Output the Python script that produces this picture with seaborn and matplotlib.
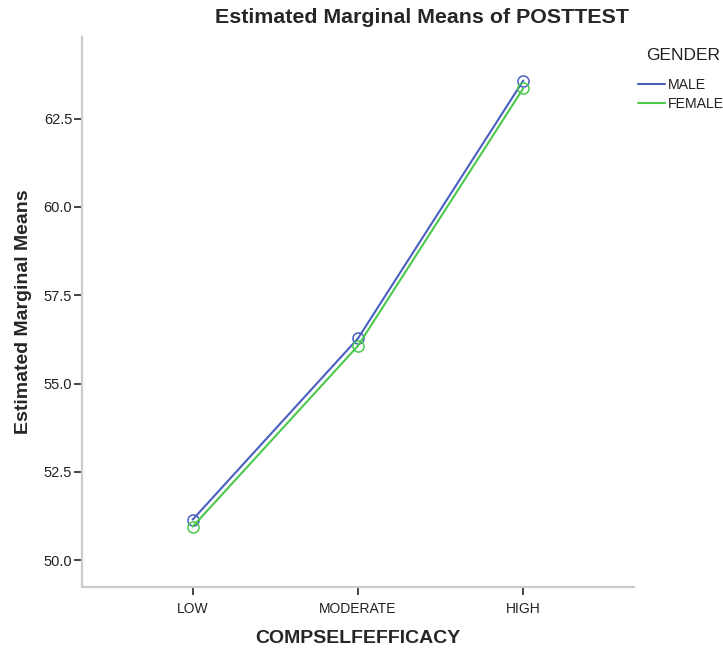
import pandas as pd
import matplotlib
matplotlib.use('Agg')
import matplotlib.pyplot as plt
import seaborn as sns

# Estimated marginal means
levels = ['LOW', 'MODERATE', 'HIGH']
male_means = [51.15, 56.28, 63.58]
female_means = [50.95, 56.07, 63.36]
genders = ['MALE', 'FEMALE']
y_ticks = [50.0, 52.5, 55.0, 57.5, 60.0, 62.5]

df = pd.DataFrame({
    'COMPSELFEFFICACY': levels * 2,
    'POSTTEST': male_means + female_means,
    'GENDER': [genders[0]] * 3 + [genders[1]] * 3,
})
df['x'] = df['COMPSELFEFFICACY'].map({k: i for i, k in enumerate(levels)})

sns.set_style('white')
plt.rcParams['font.family'] = ['Liberation Sans', 'DejaVu Sans']

fig = plt.figure(figsize=(7.23, 6.51), dpi=100)
ax = fig.add_axes([0.1134, 0.0983, 0.7635, 0.8447])

palette = {'MALE': '#4a5fc1', 'FEMALE': '#4cc94c'}
sns.lineplot(data=df, x='x', y='POSTTEST', hue='GENDER', palette=palette,
             marker='o', markersize=8, markerfacecolor='none', linewidth=1.5,
             ax=ax, legend=True)
for ln in ax.lines:
    ln.set_markeredgecolor(ln.get_color())
    ln.set_markeredgewidth(1.1)

ax.set_xlim(-0.67, 2.67)
ax.set_ylim(49.24, 64.81)
ax.set_xticks(range(len(levels)))
ax.set_xticklabels(levels)
ax.set_yticks(y_ticks)
ax.set_yticklabels([f'{v:.1f}' for v in y_ticks])

for side in ['top', 'right']:
    ax.spines[side].set_visible(False)
for side in ['left', 'bottom']:
    ax.spines[side].set_color('#cccccc')
    ax.spines[side].set_linewidth(1.6)
ax.tick_params(axis='both', which='major', direction='out', length=6, width=1.2,
               color='#222222', labelsize=10, labelcolor='#222222', left=True, bottom=True)
ax.tick_params(axis='y', pad=1, labelsize=10.5)
ax.tick_params(axis='x', pad=5)

ax.set_xlabel('COMPSELFEFFICACY', fontsize=14, fontweight='bold', labelpad=10)
ax.set_ylabel('Estimated Marginal Means', fontsize=14, fontweight='bold', labelpad=8)
ax.yaxis.set_label_coords(-0.090, 0.5)
fig.text(0.583, 0.973, 'Estimated Marginal Means of POSTTEST', ha='center', va='center',
         fontsize=15.4, fontweight='bold')

# legend: title placed as separate text to match the wider gap above the entries
fig.text(0.9447, 0.914, 'GENDER', ha='center', va='center', fontsize=12.5, color='#222222')
handles, labels = ax.get_legend_handles_labels()
for h in handles:
    h.set_marker('')
leg = ax.legend(handles, labels, loc='upper left',
                bbox_to_anchor=(0.883, 0.880), bbox_transform=fig.transFigure,
                frameon=False, fontsize=10.2, handlelength=1.9, borderpad=0,
                handletextpad=0.2, labelspacing=0.35, borderaxespad=0)
for t in leg.get_texts():
    t.set_color('#222222')

fig.savefig('out.png', dpi=100)
